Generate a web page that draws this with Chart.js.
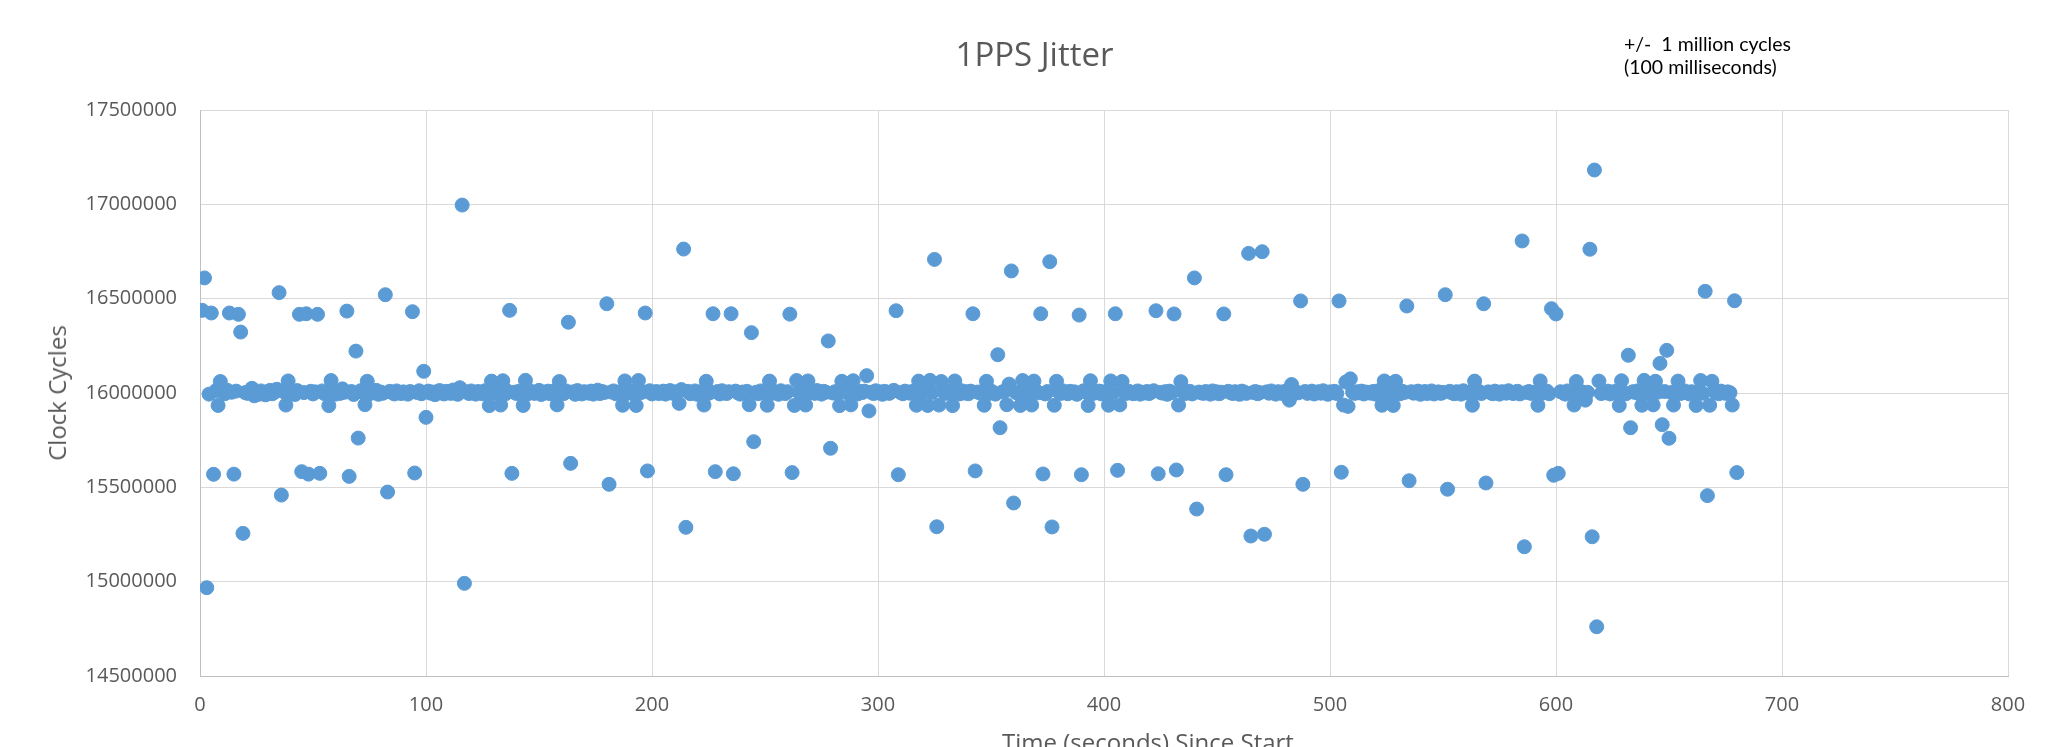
<!DOCTYPE html>
<html>
<head>
<meta charset="utf-8">
<title>1PPS Jitter</title>
<script src="https://cdn.jsdelivr.net/npm/chart.js@4.4.1/dist/chart.umd.min.js"></script>
<style>
    html, body { margin: 0; padding: 0; background: #fff; overflow: hidden; }
    #wrap { position: relative; width: 2069px; height: 747px; overflow: hidden; background: #fff; }
    #jitterChart { position: absolute; left: 0; top: 0; }
    .note { position: absolute; left: 1624px; top: 32px; font-family: Lato, 'Open Sans', sans-serif; font-size: 19.5px; line-height: 23px; color: #000; white-space: pre; }
    .axis-title { position: absolute; font-family: 'Open Sans', sans-serif; font-size: 24px; line-height: 1; color: #595959; white-space: nowrap; }
    #yTitle { left: 57px; top: 393px; transform: translate(-50%, -50%) rotate(-90deg); }
    #xTitle { left: 1148px; top: 730px; transform: translateX(-50%); }
</style>
</head>
<body>
<div id="wrap">
    <canvas id="jitterChart" width="2069" height="747"></canvas>
    <div class="note">+/-  1 million cycles
(100 milliseconds)</div>
    <div class="axis-title" id="yTitle">Clock Cycles</div>
    <div class="axis-title" id="xTitle">Time (seconds) Since Start</div>
</div>
<script>
// sample time, seconds since start
const timeSeconds = [
    1, 2, 3, 4, 5, 6, 7, 8, 9, 10, 11, 12, 13, 14, 15, 16, 17, 18, 19, 20,
    21, 22, 23, 24, 25, 26, 27, 28, 29, 30, 31, 32, 33, 34, 35, 36, 37, 38, 39, 40,
    41, 42, 43, 44, 45, 46, 47, 48, 49, 50, 51, 52, 53, 54, 55, 56, 57, 58, 59, 60,
    61, 62, 63, 64, 65, 66, 67, 68, 69, 70, 71, 72, 73, 74, 75, 76, 77, 78, 79, 80,
    81, 82, 83, 84, 85, 86, 87, 88, 89, 90, 91, 92, 93, 94, 95, 96, 97, 98, 99, 100,
    101, 102, 103, 104, 105, 106, 107, 108, 109, 110, 111, 112, 113, 114, 115, 116, 117, 118, 119, 120,
    121, 122, 123, 124, 125, 126, 127, 128, 129, 130, 131, 132, 133, 134, 135, 136, 137, 138, 139, 140,
    141, 142, 143, 144, 145, 146, 147, 148, 149, 150, 151, 152, 153, 154, 155, 156, 157, 158, 159, 160,
    161, 162, 163, 164, 165, 166, 167, 168, 169, 170, 171, 172, 173, 174, 175, 176, 177, 178, 179, 180,
    181, 182, 183, 184, 185, 186, 187, 188, 189, 190, 191, 192, 193, 194, 195, 196, 197, 198, 199, 200,
    201, 202, 203, 204, 205, 206, 207, 208, 209, 210, 211, 212, 213, 214, 215, 216, 217, 218, 219, 220,
    221, 222, 223, 224, 225, 226, 227, 228, 229, 230, 231, 232, 233, 234, 235, 236, 237, 238, 239, 240,
    241, 242, 243, 244, 245, 246, 247, 248, 249, 250, 251, 252, 253, 254, 255, 256, 257, 258, 259, 260,
    261, 262, 263, 264, 265, 266, 267, 268, 269, 270, 271, 272, 273, 274, 275, 276, 277, 278, 279, 280,
    281, 282, 283, 284, 285, 286, 287, 288, 289, 290, 291, 292, 293, 294, 295, 296, 297, 298, 299, 300,
    301, 302, 303, 304, 305, 306, 307, 308, 309, 310, 311, 312, 313, 314, 315, 316, 317, 318, 319, 320,
    321, 322, 323, 324, 325, 326, 327, 328, 329, 330, 331, 332, 333, 334, 335, 336, 337, 338, 339, 340,
    341, 342, 343, 344, 345, 346, 347, 348, 349, 350, 351, 352, 353, 354, 355, 356, 357, 358, 359, 360,
    361, 362, 363, 364, 365, 366, 367, 368, 369, 370, 371, 372, 373, 374, 375, 376, 377, 378, 379, 380,
    381, 382, 383, 384, 385, 386, 387, 388, 389, 390, 391, 392, 393, 394, 395, 396, 397, 398, 399, 400,
    401, 402, 403, 404, 405, 406, 407, 408, 409, 410, 411, 412, 413, 414, 415, 416, 417, 418, 419, 420,
    421, 422, 423, 424, 425, 426, 427, 428, 429, 430, 431, 432, 433, 434, 435, 436, 437, 438, 439, 440,
    441, 442, 443, 444, 445, 446, 447, 448, 449, 450, 451, 452, 453, 454, 455, 456, 457, 458, 459, 460,
    461, 462, 463, 464, 465, 466, 467, 468, 469, 470, 471, 472, 473, 474, 475, 476, 477, 478, 479, 480,
    481, 482, 483, 484, 485, 486, 487, 488, 489, 490, 491, 492, 493, 494, 495, 496, 497, 498, 499, 500,
    501, 502, 503, 504, 505, 506, 507, 508, 509, 510, 511, 512, 513, 514, 515, 516, 517, 518, 519, 520,
    521, 522, 523, 524, 525, 526, 527, 528, 529, 530, 531, 532, 533, 534, 535, 536, 537, 538, 539, 540,
    541, 542, 543, 544, 545, 546, 547, 548, 549, 550, 551, 552, 553, 554, 555, 556, 557, 558, 559, 560,
    561, 562, 563, 564, 565, 566, 567, 568, 569, 570, 571, 572, 573, 574, 575, 576, 577, 578, 579, 580,
    581, 582, 583, 584, 585, 586, 587, 588, 589, 590, 591, 592, 593, 594, 595, 596, 597, 598, 599, 600,
    601, 602, 603, 604, 605, 606, 607, 608, 609, 610, 611, 612, 613, 614, 615, 616, 617, 618, 619, 620,
    621, 622, 623, 624, 625, 626, 627, 628, 629, 630, 631, 632, 633, 634, 635, 636, 637, 638, 639, 640,
    641, 642, 643, 644, 645, 646, 647, 648, 649, 650, 651, 652, 653, 654, 655, 656, 657, 658, 659, 660,
    661, 662, 663, 664, 665, 666, 667, 668, 669, 670, 671, 672, 673, 674, 675, 676, 677, 678, 679, 680
];

// clock cycles counted between consecutive 1PPS pulses
const clockCycles = [
    16438000, 16610000, 14968000, 15994000, 16424000, 15569000, 16012000, 15934000, 16061000, 16008000,
    15996000, 16015000, 16424000, 16004000, 15570000, 16010000, 16417000, 16323000, 15256000, 16002000,
    15998000, 16006000, 16025000, 15985000, 16003000, 15993000, 16011000, 16001000, 15990000, 16008000,
    16014000, 15996000, 16004000, 16020000, 16532000, 15459000, 16007000, 15936000, 16064000, 15999000,
    16005000, 15992000, 16013000, 16417000, 15583000, 16002000, 16420000, 15570000, 16009000, 15995000,
    16006000, 16417000, 15574000, 16011000, 15997000, 16003000, 15933000, 16066000, 16001000, 15994000,
    16010000, 15998000, 16022000, 16004000, 16434000, 15558000, 16008000, 15992000, 16222000, 15761000,
    16012000, 16003000, 15938000, 16062000, 15996000, 16007000, 16001000, 16014000, 15993000, 16005000,
    15999000, 16521000, 15475000, 16009000, 16002000, 15995000, 16011000, 16004000, 15997000, 16006000,
    16001000, 15994000, 16008000, 16431000, 15576000, 16003000, 16012000, 15996000, 16115000, 15871000,
    16010000, 15999000, 16005000, 15991000, 16007000, 16013000, 16000000, 15995000, 16009000, 16004000,
    15998000, 16016000, 16002000, 15993000, 16028000, 16996000, 14991000, 16006000, 15997000, 16011000,
    16003000, 15994000, 16008000, 16001000, 15996000, 16012000, 16005000, 15933000, 16063000, 15999000,
    16007000, 16002000, 15936000, 16065000, 15994000, 16010000, 16438000, 15574000, 16004000, 15997000,
    16009000, 16001000, 15934000, 16067000, 15995000, 16012000, 16003000, 15998000, 16006000, 16014000,
    15992000, 16005000, 16000000, 16010000, 15996000, 16008000, 16003000, 15937000, 16061000, 16002000,
    15997000, 16011000, 16375000, 15627000, 16006000, 15993000, 16013000, 16001000, 15995000, 16007000,
    16004000, 15999000, 16010000, 15994000, 16002000, 16015000, 15997000, 16008000, 16003000, 16473000,
    15516000, 16005000, 16011000, 15996000, 16001000, 16007000, 15935000, 16064000, 15998000, 16004000,
    16009000, 15993000, 15934000, 16066000, 16002000, 16006000, 16424000, 15587000, 16012000, 15995000,
    16003000, 16008000, 15997000, 16001000, 16010000, 15994000, 16005000, 16013000, 15999000, 16004000,
    16007000, 15945000, 16018000, 16763000, 15288000, 16009000, 15996000, 16002000, 16011000, 15993000,
    16006000, 16001000, 15936000, 16062000, 15998000, 16004000, 16420000, 15583000, 16008000, 15995000,
    16012000, 16003000, 15997000, 16007000, 16420000, 15572000, 16010000, 16001000, 15994000, 16005000,
    15999000, 16009000, 15938000, 16320000, 15742000, 16004000, 15996000, 16011000, 16002000, 16006000,
    15935000, 16063000, 15998000, 16008000, 16001000, 15993000, 16012000, 16004000, 15997000, 16007000,
    16418000, 15578000, 15934000, 16066000, 16003000, 15995000, 16010000, 15936000, 16064000, 16001000,
    16006000, 15998000, 16013000, 16002000, 15994000, 16009000, 16004000, 16276000, 15707000, 16000000,
    16007000, 15996000, 15933000, 16062000, 16011000, 16003000, 15999000, 15937000, 16065000, 16005000,
    15995000, 16008000, 16002000, 16010000, 16092000, 15905000, 16004000, 15997000, 16012000, 16001000,
    16006000, 15993000, 16009000, 16003000, 15998000, 16007000, 16014000, 16436000, 15567000, 16002000,
    15996000, 16010000, 16004000, 15999000, 16008000, 16001000, 15935000, 16063000, 15997000, 16005000,
    16011000, 15934000, 16067000, 16003000, 16708000, 15291000, 15936000, 16061000, 16006000, 15998000,
    16009000, 16002000, 15933000, 16064000, 16004000, 15995000, 16012000, 16000000, 16007000, 15996000,
    16010000, 16420000, 15587000, 16005000, 16001000, 16008000, 15935000, 16062000, 15997000, 16011000,
    16003000, 15994000, 16203000, 15816000, 16006000, 16009000, 15938000, 16047000, 16647000, 15417000,
    16002000, 15999000, 15934000, 16066000, 16007000, 15996000, 16004000, 15936000, 16063000, 16010000,
    16001000, 16420000, 15571000, 15995000, 16008000, 16696000, 15290000, 15935000, 16062000, 16005000,
    15998000, 16011000, 16003000, 15996000, 16009000, 16002000, 16006000, 15993000, 16413000, 15567000,
    16012000, 16004000, 15934000, 16065000, 15997000, 16007000, 16001000, 16010000, 15995000, 16005000,
    16008000, 15935000, 16064000, 16002000, 16420000, 15590000, 15937000, 16061000, 16003000, 15998000,
    16009000, 16001000, 15996000, 16006000, 16011000, 15994000, 16004000, 16000000, 16008000, 15997000,
    16005000, 16012000, 16436000, 15572000, 16003000, 15999000, 16007000, 15993000, 16010000, 16002000,
    16419000, 15592000, 15936000, 16060000, 16006000, 15997000, 16004000, 16009000, 15995000, 16610000,
    15385000, 16005000, 16001000, 15998000, 16008000, 16003000, 15994000, 16011000, 16000000, 16006000,
    15996000, 16004000, 16419000, 15567000, 16009000, 16002000, 15997000, 16007000, 16001000, 15993000,
    16010000, 16005000, 15998000, 16740000, 15242000, 16003000, 16008000, 15996000, 16002000, 16749000,
    15251000, 16006000, 15999000, 16011000, 16001000, 15994000, 16007000, 16004000, 15997000, 16009000,
    16002000, 15962000, 16045000, 15996000, 16005000, 16001000, 16488000, 15516000, 16008000, 15998000,
    16004000, 16010000, 15995000, 16003000, 16007000, 15999000, 16012000, 16001000, 15993000, 16006000,
    16002000, 16009000, 15997000, 16488000, 15580000, 15936000, 16058000, 15929000, 16075000, 16004000,
    15998000, 16007000, 16001000, 16010000, 15995000, 16005000, 16003000, 15999000, 16008000, 15994000,
    16011000, 16002000, 15935000, 16064000, 15997000, 16006000, 16001000, 15934000, 16062000, 16004000,
    15996000, 16009000, 16003000, 16461000, 15535000, 16007000, 15999000, 16005000, 16010000, 15993000,
    16002000, 16008000, 15997000, 16004000, 16011000, 15995000, 16001000, 16006000, 15998000, 16003000,
    16521000, 15490000, 16009000, 16000000, 15996000, 16007000, 16004000, 15994000, 16012000, 16002000,
    15999000, 16005000, 15935000, 16063000, 16001000, 16008000, 15997000, 16473000, 15523000, 16006000,
    16003000, 15996000, 16010000, 16001000, 15994000, 16007000, 16004000, 15999000, 16012000, 16002000,
    15997000, 16005000, 16009000, 15995000, 16806000, 15185000, 16003000, 16008000, 15998000, 16001000,
    16006000, 15935000, 16064000, 15999000, 16004000, 16010000, 15996000, 16447000, 15564000, 16419000,
    15574000, 16007000, 16002000, 15994000, 16011000, 16001000, 16005000, 15936000, 16061000, 15998000,
    16008000, 16003000, 15962000, 16004000, 16762000, 15238000, 17182000, 14761000, 16063000, 15997000,
    16006000, 16001000, 16010000, 15995000, 16004000, 16008000, 15999000, 15934000, 16065000, 16002000,
    15996000, 16200000, 15816000, 16007000, 16003000, 16011000, 15994000, 15935000, 16067000, 16001000,
    16005000, 15998000, 15937000, 16062000, 16004000, 16157000, 15832000, 16008000, 16226000, 15760000,
    16002000, 15936000, 16009000, 16063000, 15997000, 16005000, 16011000, 16001000, 15995000, 16007000,
    16003000, 15934000, 16004000, 16066000, 15999000, 16539000, 15456000, 15935000, 16062000, 16008000,
    16002000, 15996000, 16010000, 16004000, 15998000, 16006000, 16001000, 15936000, 16489000, 15578000
];

const xTicks = [0, 100, 200, 300, 400, 500, 600, 700, 800];
const yTicks = [14500000, 15000000, 15500000, 16000000, 16500000, 17000000, 17500000];

const tickFont = { family: "'Open Sans', sans-serif", size: 20 };

const points = timeSeconds.map((t, i) => ({ x: t, y: clockCycles[i] }));

const ctx = document.getElementById('jitterChart').getContext('2d');

new Chart(ctx, {
    type: 'scatter',
    data: {
        datasets: [{
            label: 'Clock Cycles',
            data: points,
            backgroundColor: '#5B9BD5',
            borderColor: '#5B9BD5',
            borderWidth: 1,
            pointRadius: 7,
            pointHoverRadius: 7
        }]
    },
    options: {
        responsive: false,
        animation: false,
        devicePixelRatio: 1,
        // symmetric side padding keeps the title centred on the whole picture
        layout: { padding: { left: 61, right: 61, top: 0, bottom: 0 } },
        plugins: {
            legend: { display: false },
            tooltip: { enabled: false },
            title: {
                display: true,
                text: '1PPS Jitter',
                color: '#595959',
                font: { family: "'Open Sans', sans-serif", size: 33, weight: 'normal' },
                padding: { top: 37.2, bottom: 33.2 }
            }
        },
        scales: {
            x: {
                type: 'linear',
                position: 'bottom',
                min: 0,
                max: 800,
                afterBuildTicks: scale => { scale.ticks = xTicks.map(v => ({ value: v })); },
                afterFit: scale => { scale.height = 71; },
                ticks: {
                    color: '#595959',
                    font: tickFont,
                    padding: 17,
                    maxRotation: 0,
                    callback: v => String(v)
                },
                grid: { color: '#D9D9D9', lineWidth: 1, drawTicks: false },
                border: { color: '#BFBFBF', width: 1 }
            },
            y: {
                min: 14500000,
                max: 17500000,
                afterBuildTicks: scale => { scale.ticks = yTicks.map(v => ({ value: v })); },
                afterFit: scale => { scale.width = 139; },
                ticks: {
                    color: '#595959',
                    font: tickFont,
                    padding: 23,
                    callback: v => String(v)
                },
                grid: { color: '#D9D9D9', lineWidth: 1, drawTicks: false },
                border: { color: '#BFBFBF', width: 1 }
            }
        }
    }
});
</script>
</body>
</html>
